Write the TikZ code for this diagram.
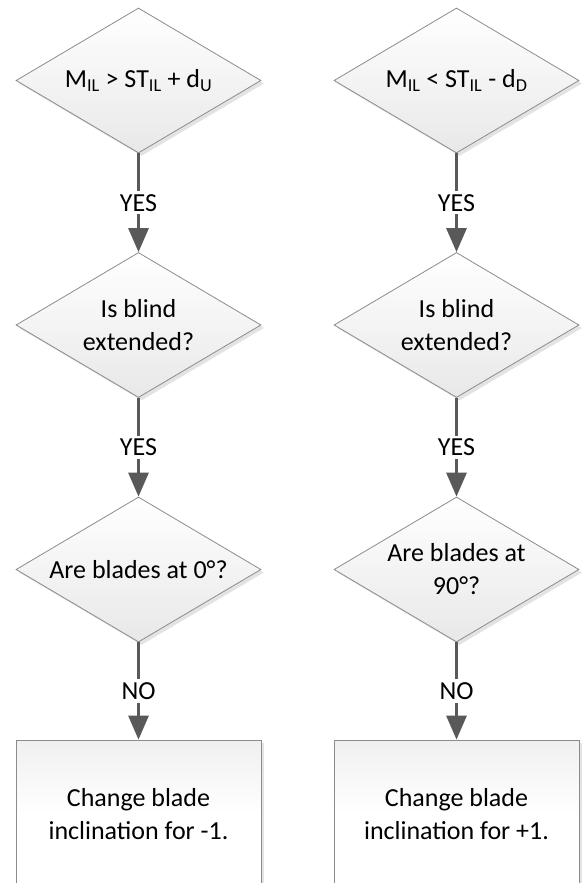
\documentclass[tikz,border=0pt]{standalone}
\usepackage{fontspec}
\setmainfont{Carlito}
\usetikzlibrary{shapes.geometric,arrows.meta,shadows,calc}

\definecolor{edgegray}{HTML}{8C8C8C}
\definecolor{flowgray}{HTML}{595959}

\tikzset{
  decision/.style={shape=diamond, shape aspect=1.69, draw=edgegray, line width=0.8pt,
    minimum width=245pt, minimum height=145pt, inner sep=0pt,
    top color=white, bottom color=black!9,
    drop shadow={shadow xshift=3pt, shadow yshift=-3pt, fill=black!18, opacity=0.6},
    align=center, font=\fontsize{26}{33}\selectfont},
  action/.style={shape=rectangle, draw=edgegray, line width=0.8pt,
    minimum width=245pt, minimum height=148pt, inner sep=0pt,
    top color=black!6, bottom color=white, middle color=white,
    drop shadow={shadow xshift=3pt, shadow yshift=-3pt, fill=black!18, opacity=0.6},
    align=center, font=\fontsize{26}{33}\selectfont},
  link/.style={draw=flowgray, line width=3pt},
  flow/.style={link, -{Triangle[width=20pt,length=24pt]}, color=flowgray},
  answer/.style={inner sep=3pt, text=black,
    font=\fontsize{26}{30}\selectfont}
}

\begin{document}
\begin{tikzpicture}[x=1pt,y=-1pt]
  \useasboundingbox (0,0) rectangle (584,883);
  \fill[white] (0,0) rectangle (584,883);
  \clip (0,0) rectangle (584,883);

  % left column
  \node[decision] (l1) at (138.5,80.5) {M\textsubscript{IL} > ST\textsubscript{IL} + d\textsubscript{U}};
  \node[decision] (l2) at (138.5,325) {Is blind\\extended?};
  \node[decision] (l3) at (138.5,569.5) {Are blades at 0°?};
  \node[action]   (l4) at (138.5,814) {Change blade\\inclination for -1.};

  % right column
  \node[decision] (r1) at (456.5,80.5) {M\textsubscript{IL} < ST\textsubscript{IL} - d\textsubscript{D}};
  \node[decision] (r2) at (456.5,325) {Is blind\\extended?};
  \node[decision] (r3) at (456.5,569.5) {Are blades at\\90°?};
  \node[action]   (r4) at (456.5,814) {Change blade\\inclination for +1.};

  % answers halfway between the shapes
  \foreach \c in {l,r}{
    \node[answer] (\c a1) at ($(\c1.south)!0.5!(\c2.north)$) {YES};
    \node[answer] (\c a2) at ($(\c2.south)!0.5!(\c3.north)$) {YES};
    \node[answer] (\c a3) at ($(\c3.south)!0.5!(\c4.north)$) {NO};
  }

  % connectors, broken around the answers
  \foreach \c in {l,r}{
    \draw[link] (\c1.south) -- (\c a1);
    \draw[flow] (\c a1) -- (\c2.north);
    \draw[link] (\c2.south) -- (\c a2);
    \draw[flow] (\c a2) -- (\c3.north);
    \draw[link] (\c3.south) -- (\c a3);
    \draw[flow] (\c a3) -- (\c4.north);
  }
\end{tikzpicture}
\end{document}
